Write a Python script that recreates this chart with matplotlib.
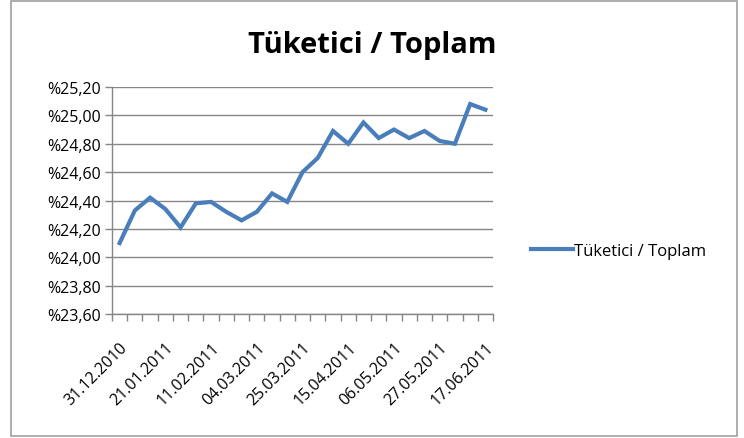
import matplotlib.pyplot as plt
from matplotlib.patches import Rectangle
import numpy as np

# weekly dates, 31.12.2010 .. 17.06.2011
dates = ["31.12.2010", "07.01.2011", "14.01.2011", "21.01.2011", "28.01.2011",
         "04.02.2011", "11.02.2011", "18.02.2011", "25.02.2011", "04.03.2011",
         "11.03.2011", "18.03.2011", "25.03.2011", "01.04.2011", "08.04.2011",
         "15.04.2011", "22.04.2011", "29.04.2011", "06.05.2011", "13.05.2011",
         "20.05.2011", "27.05.2011", "03.06.2011", "10.06.2011", "17.06.2011"]
ratio = [24.10, 24.33, 24.42, 24.34, 24.21, 24.38, 24.39, 24.32, 24.26, 24.32,
         24.45, 24.39, 24.60, 24.70, 24.89, 24.80, 24.95, 24.84, 24.90, 24.84,
         24.89, 24.82, 24.80, 25.08, 25.04]
yticks = [23.6, 23.8, 24.0, 24.2, 24.4, 24.6, 24.8, 25.0, 25.2]

plt.rcParams['font.family'] = ['Open Sans', 'DejaVu Sans']

fig = plt.figure(figsize=(7.44, 4.39), dpi=100)
fig.patches.append(Rectangle((11/744, 2/439), 726/744, 435/439, transform=fig.transFigure,
                             fill=False, edgecolor="#a0a0a0", linewidth=1.2))

ax = fig.add_axes([112/744, 1 - 315/439, 381/744, 227/439])
x = np.arange(len(ratio))
line, = ax.plot(x, ratio, color="#4a7ebb", linewidth=3, solid_joinstyle="miter",
                label="Tüketici / Toplam")

ax.set_xlim(-0.5, len(ratio) - 0.5)
ax.set_ylim(23.6, 25.2)
ax.set_yticks(yticks)
ax.set_yticklabels(["%" + f"{v:.2f}".replace(".", ",") for v in yticks], fontsize=11.5)
ax.yaxis.grid(True, color="#868686", linewidth=1)
ax.set_axisbelow(True)

ax.set_xticks(np.arange(-0.5, len(ratio), 1), minor=True)
ax.set_xticks(x[::3])
ax.set_xticklabels(dates[::3], rotation=45, ha="right", va="top",
                   rotation_mode="anchor", fontsize=11.5)
ax.tick_params(axis="x", which="major", length=0, pad=18)
ax.tick_params(axis="x", which="minor", length=5, color="#868686", width=1)
ax.tick_params(axis="y", length=5, color="#868686", width=1, pad=3)

for s in ["top", "right"]:
    ax.spines[s].set_visible(False)
for s in ["left", "bottom"]:
    ax.spines[s].set_color("#868686")
    ax.spines[s].set_linewidth(1)

fig.text(372/744, 1 - 45/439, "Tüketici / Toplam", ha="center", va="center",
         fontsize=21, fontweight="bold")

fig.legend(handles=[line], loc="center left", bbox_to_anchor=(516/744, 1 - 252/439),
           frameon=False, fontsize=12, handlelength=2.5, handletextpad=0.05)

fig.savefig("out.png", dpi=100)
